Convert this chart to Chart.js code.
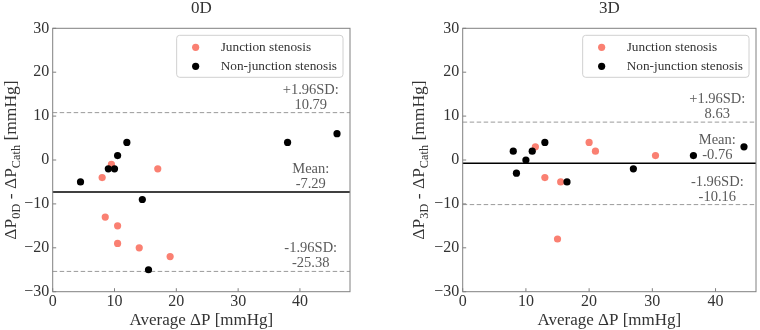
<!DOCTYPE html>
<html>
<head>
<meta charset="utf-8">
<script src="https://cdn.jsdelivr.net/npm/chart.js@4.4.1/dist/chart.umd.min.js"></script>
<style>
  body { margin: 0; background: #fff; }
  #wrap { position: relative; width: 760px; height: 330px; }
  canvas { position: absolute; top: 0; }
  #c0 { left: 0; }
  #c3 { left: 380px; }
</style>
</head>
<body>
<div id="wrap">
  <canvas id="c0" width="380" height="330"></canvas>
  <canvas id="c3" width="380" height="330"></canvas>
</div>
<script>
// data
const panelTitles = ["0D", "3D"];
const seriesNames = ["Junction stenosis", "Non-junction stenosis"];
const statLabels = ["+1.96SD:", "Mean:", "-1.96SD:"];

// 0D panel: average dP vs difference
const junctionX0 = [8, 9.5, 17, 8.5, 10.5, 10.5, 14, 19];
const junctionY0 = [-4, -1, -2, -13, -15, -19, -20, -22];
const otherX0 = [4.5, 9, 10, 10.5, 12, 14.5, 15.5, 38, 46];
const otherY0 = [-5, -2, -2, 1, 4, -9, -25, 4, 6];
const stats0 = [10.79, -7.29, -25.38];

// 3D panel
const junctionX3 = [11.5, 13, 15.5, 20, 21, 30.5, 15];
const junctionY3 = [3, -4, -5, 4, 2, 1, -18];
const otherX3 = [8, 8.5, 10, 11, 13, 16.5, 27, 36.5, 44.5];
const otherY3 = [2, -3, 0, 2, 4, -5, -2, 1, 3];
const stats3 = [8.63, -0.76, -10.16];

const xTicks = [0, 10, 20, 30, 40];
const yTicks = [-30, -20, -10, 0, 10, 20, 30];

const FONT = '"Liberation Serif", "Times New Roman", serif';
const TEXT = "#333";
const SALMON = "#fa8072";

function toPoints(xs, ys) {
  return xs.map((x, i) => ({ x: x, y: ys[i] }));
}

// rotated axis label with subscripts
function drawRich(ctx, parts, cx, cy, size) {
  let total = 0;
  parts.forEach(p => {
    ctx.font = (p.sub ? size * 0.7 : size) + "px " + FONT;
    p.w = ctx.measureText(p.t).width;
    total += p.w;
  });
  ctx.save();
  ctx.translate(cx, cy);
  ctx.rotate(-Math.PI / 2);
  ctx.textBaseline = "alphabetic";
  ctx.textAlign = "left";
  let x = -total / 2;
  parts.forEach(p => {
    ctx.font = (p.sub ? size * 0.7 : size) + "px " + FONT;
    ctx.fillText(p.t, x, p.sub ? size * 0.25 : 0);
    x += p.w;
  });
  ctx.restore();
}

const panelPlugin = {
  id: "panel",
  beforeDatasetsDraw(chart) {
    const { ctx, chartArea: a, scales } = chart;
    const opt = chart.options.plugins.panel;
    ctx.save();
    opt.stats.forEach((v, i) => {
      const yy = scales.y.getPixelForValue(v);
      ctx.beginPath();
      if (i === 1) {
        ctx.strokeStyle = "#000";
        ctx.lineWidth = 1.5;
        ctx.setLineDash([]);
      } else {
        ctx.strokeStyle = "#9a9a9a";
        ctx.lineWidth = 1;
        ctx.setLineDash([4.5, 2.5]);
      }
      ctx.moveTo(a.left, yy);
      ctx.lineTo(a.right, yy);
      ctx.stroke();
    });
    ctx.restore();
  },
  afterDraw(chart) {
    const { ctx, chartArea: a, scales } = chart;
    const opt = chart.options.plugins.panel;
    ctx.save();

    // frame + inward ticks
    ctx.strokeStyle = "#808080";
    ctx.lineWidth = 1;
    ctx.strokeRect(a.left, a.top, a.right - a.left, a.bottom - a.top);
    ctx.beginPath();
    scales.y.ticks.forEach(t => {
      const yy = scales.y.getPixelForValue(t.value);
      ctx.moveTo(a.left, yy);
      ctx.lineTo(a.left + 3.5, yy);
    });
    scales.x.ticks.forEach(t => {
      const xx = scales.x.getPixelForValue(t.value);
      ctx.moveTo(xx, a.bottom);
      ctx.lineTo(xx, a.bottom - 3.5);
    });
    ctx.stroke();

    // stat annotations
    ctx.fillStyle = "#5a5a5a";
    ctx.font = "14.5px " + FONT;
    ctx.textAlign = "center";
    ctx.textBaseline = "alphabetic";
    const tx = a.left + 0.868 * (a.right - a.left);
    opt.stats.forEach((v, i) => {
      const yy = scales.y.getPixelForValue(v);
      ctx.fillText(statLabels[i], tx, yy - 19);
      ctx.fillText(v.toFixed(2), tx, yy - 4);
    });

    // titles
    ctx.fillStyle = TEXT;
    ctx.font = "17px " + FONT;
    const cx = (a.left + a.right) / 2;
    ctx.fillText(opt.title, cx, 13);
    ctx.fillText("Average \u0394P [mmHg]", cx, 325);
    drawRich(ctx, [
      { t: "\u0394P" }, { t: opt.title, sub: true },
      { t: " - \u0394P" }, { t: "Cath", sub: true },
      { t: " [mmHg]" }
    ], opt.yTitleX, (a.top + a.bottom) / 2, 17.5);

    // legend
    ctx.font = "13.3px " + FONT;
    const ds = chart.data.datasets;
    let maxW = 0;
    ds.forEach(d => { maxW = Math.max(maxW, ctx.measureText(d.label).width); });
    const bw = 44 + maxW + 6, bh = 42;
    const bx = a.right - 7 - bw, by = a.top + 7;
    ctx.fillStyle = "rgba(255,255,255,0.85)";
    ctx.strokeStyle = "#d0d0d0";
    ctx.beginPath();
    ctx.roundRect(bx, by, bw, bh, 3);
    ctx.fill();
    ctx.stroke();
    ds.forEach((d, i) => {
      const yy = by + 12 + i * 19;
      ctx.fillStyle = d.backgroundColor;
      ctx.beginPath();
      ctx.arc(bx + 19, yy, 3.6, 0, Math.PI * 2);
      ctx.fill();
      ctx.fillStyle = TEXT;
      ctx.textAlign = "left";
      ctx.textBaseline = "middle";
      ctx.fillText(d.label, bx + 44, yy);
    });
    ctx.restore();
  }
};

function buildPanel(id, cfg) {
  return new Chart(document.getElementById(id), {
    type: "scatter",
    data: {
      datasets: [
        { label: seriesNames[0], data: toPoints(cfg.jx, cfg.jy), backgroundColor: SALMON,
          pointRadius: 3.6, borderWidth: 0, order: 2 },
        { label: seriesNames[1], data: toPoints(cfg.ox, cfg.oy), backgroundColor: "#000",
          pointRadius: 3.6, borderWidth: 0, order: 1 }
      ]
    },
    options: {
      responsive: false,
      animation: false,
      devicePixelRatio: 1,
      layout: { padding: { top: 28.3, right: cfg.padRight, left: 0, bottom: 0 } },
      plugins: {
        legend: { display: false },
        tooltip: { enabled: false },
        title: { display: false },
        panel: { stats: cfg.stats, title: cfg.title, yTitleX: cfg.yTitleX }
      },
      scales: {
        x: {
          type: "linear", min: 0, max: cfg.xMax,
          afterBuildTicks: s => { s.ticks = xTicks.map(v => ({ value: v })); },
          afterFit: s => { s.height = 38.3; },
          grid: { display: false, drawTicks: false },
          border: { display: false },
          ticks: { font: { family: FONT, size: 16 }, color: TEXT, padding: 0, maxRotation: 0 }
        },
        y: {
          type: "linear", min: -30, max: 30,
          afterBuildTicks: s => { s.ticks = yTicks.map(v => ({ value: v })); },
          afterFit: s => { s.width = cfg.yWidth; },
          grid: { display: false, drawTicks: false },
          border: { display: false },
          ticks: {
            font: { family: FONT, size: 16 }, color: TEXT, padding: 3.5,
            callback: v => String(v).replace("-", "\u2212")
          }
        }
      }
    },
    plugins: [panelPlugin]
  });
}

buildPanel("c0", {
  title: panelTitles[0], jx: junctionX0, jy: junctionY0, ox: otherX0, oy: otherY0,
  stats: stats0, xMax: 48.1, yWidth: 52.7, padRight: 30, yTitleX: 16
});
buildPanel("c3", {
  title: panelTitles[1], jx: junctionX3, jy: junctionY3, ox: otherX3, oy: otherY3,
  stats: stats3, xMax: 46.4, yWidth: 82.7, padRight: 1, yTitleX: 44
});
</script>
</body>
</html>
